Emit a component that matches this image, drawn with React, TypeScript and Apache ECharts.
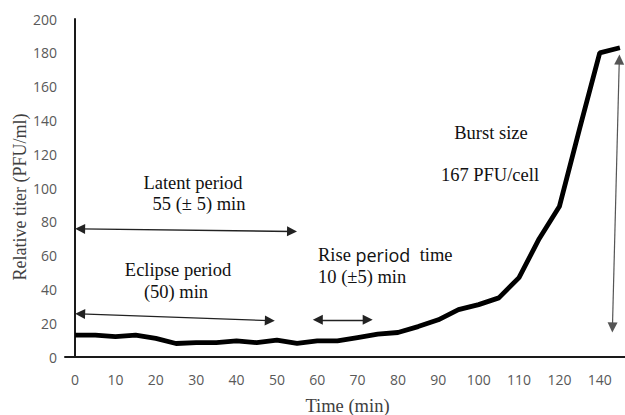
import React, { useEffect, useRef } from "react";
import * as echarts from "echarts";

const categories = ["0","5","10","15","20","25","30","35","40","45","50","55","60","65","70","75","80","85","90","95","100","105","110","115","120","130","140","145"];
const titer = [13,13,12,13,11,8,8.5,8.5,9.5,8.5,10,8,9.5,9.5,11.5,13.5,14.5,18,22,28,31,35,47,70,89,135,180,183];

const yTicks = { min: 0, max: 200, interval: 20 };

// annotation arrows in (category index, titer) units
const latentArrow = [[0.25, 75.8], [10.75, 74.3]];
const eclipseArrow = [[0.25, 25.5], [9.65, 21.5]];
const riseArrow = [[12.03, 22], [14.5, 22]];
const burstArrow = [[26.97, 176], [26.63, 17.5]];

const serif = '"Liberation Serif", "Times New Roman", serif';
const sans = '"Open Sans", "Liberation Sans", sans-serif';

export default function App() {
  const ref = useRef<HTMLDivElement>(null);
  useEffect(() => {
    const chart = echarts.init(ref.current!, null, { renderer: "svg" });
    const arrow = (pts: number[][], color: string, width: number) => [
      { coord: pts[0], lineStyle: { color, width, type: "solid" } },
      { coord: pts[1] },
    ];
    const textStyle = (t: string, extra: any = {}) => ({
      text: t,
      fontFamily: serif,
      fontSize: 18.5,
      fill: "#111",
      ...extra,
    });
    chart.setOption({
      animation: false,
      grid: {
        left: 65,
        top: 19,
        width: 565,
        height: 338,
        containLabel: false,
        outerBoundsMode: "none",
      },
      xAxis: [
        {
          type: "category",
          data: categories,
          boundaryGap: true,
          axisLine: { show: true, lineStyle: { color: "#1a1a1a", width: 2 } },
          axisTick: { show: false },
          axisLabel: {
            interval: 1,
            color: "#595959",
            fontFamily: sans,
            fontSize: 14,
            margin: 15,
          },
          splitLine: { show: false },
          name: "Time (min)",
          nameLocation: "middle",
          nameGap: 39,
          nameTextStyle: { fontFamily: serif, fontSize: 18.5, color: "#404040" },
        },
        {
          type: "value",
          min: -0.5,
          max: 27.5,
          show: false,
        },
      ],
      yAxis: {
        type: "value",
        min: yTicks.min,
        max: yTicks.max,
        interval: yTicks.interval,
        axisLine: { show: true, lineStyle: { color: "#1a1a1a", width: 2 } },
        axisTick: { show: false },
        splitLine: { show: false },
        axisLabel: { color: "#595959", fontFamily: sans, fontSize: 14, margin: 8 },
      },
      series: [
        {
          type: "line",
          data: titer,
          xAxisIndex: 0,
          showSymbol: false,
          symbol: "none",
          lineStyle: { color: "#000", width: 4.8 },
          silent: true,
        },
        {
          type: "line",
          data: [],
          xAxisIndex: 1,
          silent: true,
          markLine: {
            silent: true,
            symbol: ["triangle", "triangle"],
            symbolSize: [10, 10],
            label: { show: false },
            emphasis: { disabled: true },
            itemStyle: { color: "#111" },
            data: [
              arrow(latentArrow, "#222", 1.4),
              arrow(eclipseArrow, "#222", 1.4),
              arrow(riseArrow, "#222", 1.4),
              arrow(burstArrow, "#555", 1.2),
            ],
          },
        },
      ],
      graphic: [
        {
          type: "text",
          x: 20,
          y: 197,
          rotation: Math.PI / 2,
          style: textStyle("Relative titer (PFU/ml)", {
            align: "center",
            verticalAlign: "middle",
            fill: "#404040",
            fontSize: 18,
          }),
        },
        { type: "text", x: 193, y: 183, style: textStyle("Latent period", { align: "center", verticalAlign: "middle" }) },
        { type: "text", x: 199, y: 204, style: textStyle("55 (± 5) min", { align: "center", verticalAlign: "middle" }) },
        { type: "text", x: 178, y: 270, style: textStyle("Eclipse period", { align: "center", verticalAlign: "middle" }) },
        { type: "text", x: 176, y: 292, style: textStyle("(50) min", { align: "center", verticalAlign: "middle" }) },
        {
          type: "text",
          x: 318,
          y: 255,
          style: {
            text: "{s|Rise }{p|period}{s|  time}",
            verticalAlign: "middle",
            rich: {
              s: { fontFamily: serif, fontSize: 18.5, fill: "#111", color: "#111" },
              p: { fontFamily: sans, fontSize: 18, fill: "#111", color: "#111" },
            },
          },
        },
        { type: "text", x: 318, y: 277, style: textStyle("10 (±5) min", { verticalAlign: "middle" }) },
        { type: "text", x: 491, y: 133, style: textStyle("Burst size", { align: "center", verticalAlign: "middle" }) },
        { type: "text", x: 490, y: 175, style: textStyle("167 PFU/cell", { align: "center", verticalAlign: "middle" }) },
      ],
    });
    return () => chart.dispose();
  }, []);
  return (
    <div
      ref={ref}
      style={{ position: "fixed", left: 0, top: 0, width: 625, height: 415, background: "#fff" }}
    />
  );
}
